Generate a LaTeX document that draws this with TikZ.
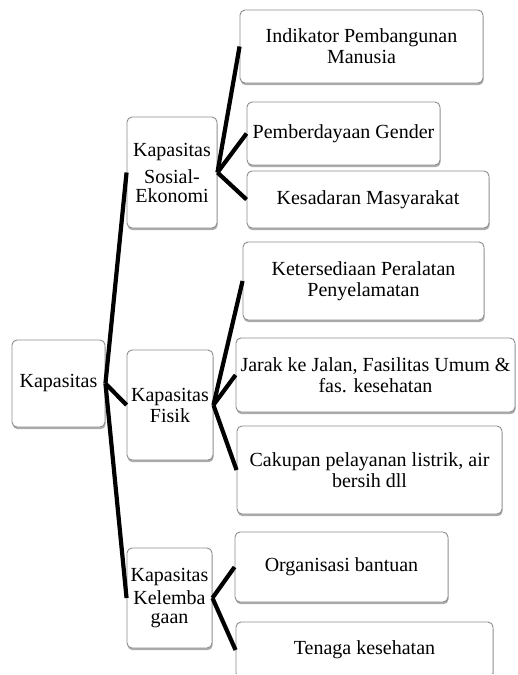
\documentclass[tikz,border=0pt]{standalone}
\usepackage{fontspec}
\setmainfont{Liberation Serif}
\usetikzlibrary{shadows}
\begin{document}
\begin{tikzpicture}[x=1pt,y=-1pt]
\tikzset{
  box/.style={draw=black!45, line width=0.9pt, fill=white, rounded corners=5pt,
    inner sep=0pt, align=center, font=\fontsize{20}{21}\selectfont,
    drop shadow={shadow xshift=0.6pt, shadow yshift=-2.2pt, opacity=0.5, fill=black!65}},
  link/.style={line width=4.2pt, black}
}
\useasboundingbox (0,0) rectangle (517,675);
% level 1
\node[box, minimum width=93pt, minimum height=87pt] (kap) at (58.5,383.5) {Kapasitas};
% level 2
\node[box, minimum width=90pt, minimum height=111pt] (sos) at (172,172.5) {Kapasitas\\[6pt]Sosial-\\[-2pt]Ekonomi};
\node[box, minimum width=86pt, minimum height=110pt] (fis) at (170,405) {Kapasitas\\Fisik};
\node[box, minimum width=85pt, minimum height=100pt] (kel) at (169.5,598) {Kapasitas\\[2pt]Kelemba\\[-2pt]gaan};
% level 3
\node[box, minimum width=243pt, minimum height=73pt] (ind) at (361.5,46.5) {Indikator Pembangunan\\Manusia};
\node[box, minimum width=193pt, minimum height=63pt] (pem) at (343.5,133.5) {Pemberdayaan Gender};
\node[box, minimum width=242pt, minimum height=57pt] (kes) at (368,199.5) {Kesadaran Masyarakat};
\node[box, minimum width=241pt, minimum height=78pt] (ket) at (363.5,281) {Ketersediaan Peralatan\\Penyelamatan};
\node[box, minimum width=279pt, minimum height=74pt] (jar) at (375.5,375) {Jarak ke Jalan, Fasilitas Umum \&\\fas. kesehatan};
\node[box, minimum width=265pt, minimum height=88pt] (cak) at (369.5,470) {Cakupan pelayanan listrik, air\\bersih dll};
\node[box, minimum width=213pt, minimum height=70pt] (org) at (341.5,567) {Organisasi bantuan};
\begin{scope}
  \clip (0,0) rectangle (517,673);
  \node[box, minimum width=257pt, minimum height=56pt] (ten) at (364.5,650) {Tenaga kesehatan};
\end{scope}
% connectors
\draw[link] (kap.east) -- (sos.west);
\draw[link] (kap.east) -- (fis.west);
\draw[link] (kap.east) -- (kel.west);
\draw[link] (sos.east) -- (ind.west);
\draw[link] (sos.east) -- (pem.west);
\draw[link] (sos.east) -- (kes.west);
\draw[link] (fis.east) -- (ket.west);
\draw[link] (fis.east) -- (jar.west);
\draw[link] (fis.east) -- (cak.west);
\draw[link] (kel.east) -- (org.west);
\draw[link] (kel.east) -- (ten.west);
\end{tikzpicture}
\end{document}
